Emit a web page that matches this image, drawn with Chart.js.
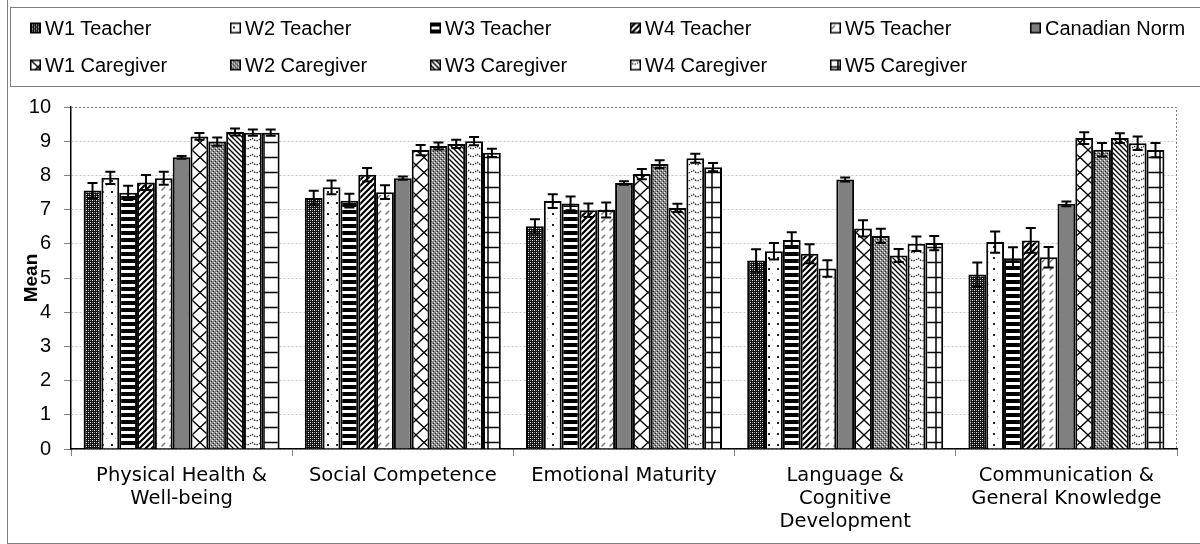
<!DOCTYPE html>
<html><head><meta charset="utf-8">
<script src="https://cdn.jsdelivr.net/npm/chart.js@4"></script>
<style>
html,body{margin:0;padding:0;background:#fff;}
#wrap{position:relative;width:1200px;height:544px;overflow:hidden;}
#frame{position:absolute;left:7px;top:-2px;width:1200px;height:546px;border:1px solid #808080;box-sizing:border-box;}
#legendBox{position:absolute;left:10px;top:7px;width:1200px;height:80px;border:1px solid #808080;box-sizing:border-box;}
.item{position:absolute;display:flex;align-items:center;white-space:nowrap;font-family:"Liberation Sans",Arial,sans-serif;font-size:20px;color:#000;transform:translateY(-50%);}
.item canvas{margin-right:4px;display:block;}
#c{position:absolute;left:0;top:0;}
</style></head>
<body>
<div id="wrap">
<div id="frame"></div>
<div id="legendBox"></div>
<canvas id="c" width="1200" height="544"></canvas>
</div>
<script>
const categories = [["Physical Health &","Well-being"],["Social Competence"],["Emotional Maturity"],["Language &","Cognitive","Development"],["Communication &","General Knowledge"]];
const seriesNames = ["W1 Teacher","W2 Teacher","W3 Teacher","W4 Teacher","W5 Teacher","Canadian Norm","W1 Caregiver","W2 Caregiver","W3 Caregiver","W4 Caregiver","W5 Caregiver"];
const w1Teacher   = [7.56, 7.34, 6.51, 5.51, 5.10];
const w2Teacher   = [7.93, 7.65, 7.25, 5.78, 6.05];
const w3Teacher   = [7.49, 7.26, 7.18, 6.11, 5.58];
const w4Teacher   = [7.79, 8.02, 6.98, 5.71, 6.10];
const w5Teacher   = [7.92, 7.51, 6.99, 5.28, 5.61];
const canadianNorm= [8.53, 7.92, 7.78, 7.88, 7.17];
const w1Caregiver = [9.14, 8.74, 8.04, 6.45, 9.09];
const w2Caregiver = [8.99, 8.86, 8.33, 6.23, 8.75];
const w3Caregiver = [9.27, 8.92, 7.05, 5.66, 9.09];
const w4Caregiver = [9.25, 9.00, 8.50, 6.00, 8.94];
const w5Caregiver = [9.25, 8.66, 8.24, 6.02, 8.74];
const errW1Teacher   = [0.22, 0.21, 0.21, 0.33, 0.35];
const errW2Teacher   = [0.18, 0.20, 0.20, 0.24, 0.31];
const errW3Teacher   = [0.21, 0.20, 0.20, 0.23, 0.32];
const errW4Teacher   = [0.22, 0.20, 0.20, 0.28, 0.36];
const errW5Teacher   = [0.19, 0.20, 0.22, 0.24, 0.30];
const errCanadianNorm= [0.04, 0.05, 0.05, 0.06, 0.07];
const errW1Caregiver = [0.10, 0.15, 0.15, 0.24, 0.17];
const errW2Caregiver = [0.12, 0.10, 0.11, 0.21, 0.20];
const errW3Caregiver = [0.10, 0.12, 0.12, 0.19, 0.14];
const errW4Caregiver = [0.09, 0.12, 0.13, 0.21, 0.20];
const errW5Caregiver = [0.09, 0.12, 0.12, 0.21, 0.21];
const yTicks = [0,1,2,3,4,5,6,7,8,9,10];

const values = [w1Teacher,w2Teacher,w3Teacher,w4Teacher,w5Teacher,canadianNorm,w1Caregiver,w2Caregiver,w3Caregiver,w4Caregiver,w5Caregiver];
const errors = [errW1Teacher,errW2Teacher,errW3Teacher,errW4Teacher,errW5Teacher,errCanadianNorm,errW1Caregiver,errW2Caregiver,errW3Caregiver,errW4Caregiver,errW5Caregiver];

function tile(w,h,draw){const c=document.createElement('canvas');c.width=w;c.height=h;const g=c.getContext('2d');draw(g,w,h);return c;}
function diag(g,s,up,col,lw){g.strokeStyle=col;g.lineWidth=lw;g.beginPath();
  if(up){g.moveTo(0,s);g.lineTo(s,0);g.moveTo(-s/2,s/2);g.lineTo(s/2,-s/2);g.moveTo(s/2,s*1.5);g.lineTo(s*1.5,s/2);}
  else{g.moveTo(0,0);g.lineTo(s,s);g.moveTo(-s/2,s/2);g.lineTo(s/2,s*1.5);g.moveTo(s/2,-s/2);g.lineTo(s*1.5,s/2);}
  g.stroke();}
const tiles = [
  tile(4,4,(g)=>{g.fillStyle='#111';g.fillRect(0,0,4,4);g.fillStyle='#fff';g.fillRect(0,0,1,1);g.fillRect(2,2,1,1);g.fillStyle='#888';g.fillRect(2,0,1,1);g.fillRect(0,2,1,1);}),
  tile(9,11,(g)=>{g.fillStyle='#fff';g.fillRect(0,0,9,11);g.fillStyle='#222';g.fillRect(3,4,2,2);g.fillStyle='#aaa';g.fillRect(7,9,1,1);}),
  tile(4,7,(g)=>{g.fillStyle='#fff';g.fillRect(0,0,4,7);g.fillStyle='#000';g.fillRect(0,0,4,4);}),
  tile(6,6,(g)=>{g.fillStyle='#fff';g.fillRect(0,0,6,6);diag(g,6,true,'#000',2.2);}),
  tile(8,8,(g)=>{g.fillStyle='#fff';g.fillRect(0,0,8,8);g.strokeStyle='#707070';g.lineWidth=1.5;g.beginPath();g.moveTo(1.5,6.5);g.lineTo(5,3);g.stroke();}),
  null,
  tile(16,15,(g)=>{g.fillStyle='#fff';g.fillRect(0,0,16,15);g.strokeStyle='#000';g.lineWidth=1.3;g.beginPath();g.moveTo(0,0);g.lineTo(16,15);g.moveTo(16,0);g.lineTo(0,15);g.stroke();}),
  tile(4,4,(g)=>{g.fillStyle='#8a8a8a';g.fillRect(0,0,4,4);g.fillStyle='#fff';g.fillRect(0,0,1,1);g.fillRect(2,2,1,1);g.fillStyle='#222';g.fillRect(1,3,1,1);g.fillRect(3,1,1,1);}),
  tile(5,5,(g)=>{g.fillStyle='#fff';g.fillRect(0,0,5,5);diag(g,5,false,'#000',1.4);}),
  tile(9,8,(g)=>{g.fillStyle='#fff';g.fillRect(0,0,9,8);g.strokeStyle='#333';g.lineWidth=1.3;g.setLineDash([1.5,1.2]);g.beginPath();g.moveTo(0,2);g.quadraticCurveTo(4.5,7.5,9,2);g.stroke();}),
  tile(16,15,(g)=>{g.fillStyle='#fff';g.fillRect(0,0,16,15);g.strokeStyle='#000';g.lineWidth=1.5;g.beginPath();g.moveTo(8,0);g.lineTo(8,15);g.moveTo(0,7.5);g.lineTo(16,7.5);g.stroke();})
];
const canvas = document.getElementById('c');
const ctx0 = canvas.getContext('2d');
const fills = tiles.map(t => t ? ctx0.createPattern(t,'repeat') : '#808080');

// legend
const wrap = document.getElementById('wrap');
const colX = [30,230,430,630,830,1030];
const rowY = [28,65];
seriesNames.forEach((name,i)=>{
  const row = i < 6 ? 0 : 1, col = i < 6 ? i : i-6;
  const d = document.createElement('div'); d.className='item';
  d.style.left = colX[col]+'px'; d.style.top = rowY[row]+'px';
  const sw = document.createElement('canvas'); sw.width=11; sw.height=11;
  const g = sw.getContext('2d'); g.fillStyle = tiles[i] ? g.createPattern(tiles[i],'repeat') : '#808080';
  g.fillRect(0,0,11,11); g.strokeStyle='#000'; g.lineWidth=1.5; g.strokeRect(0.75,0.75,9.5,9.5);
  d.appendChild(sw);
  const s = document.createElement('span'); s.textContent = name; d.appendChild(s);
  wrap.appendChild(d);
});

const errPlugin = {
  id:'errbars',
  afterDatasetsDraw(chart){
    const ctx = chart.ctx, ys = chart.scales.y;
    chart.data.datasets.forEach((ds,i)=>{
      const meta = chart.getDatasetMeta(i);
      meta.data.forEach((bar,j)=>{
        const v = ds.data[j], e = ds.err[j];
        const x = bar.x, yt = ys.getPixelForValue(v+e), yb = ys.getPixelForValue(v-e);
        ctx.save(); ctx.strokeStyle='#000'; ctx.lineWidth=2; ctx.beginPath();
        ctx.moveTo(x,yt); ctx.lineTo(x,yb);
        ctx.moveTo(x-5,yt); ctx.lineTo(x+5,yt);
        ctx.moveTo(x-5,yb); ctx.lineTo(x+5,yb);
        ctx.stroke(); ctx.restore();
      });
    });
  }
};
const borderPlugin = {
  id:'plotBorder',
  beforeDatasetsDraw(chart){
    const {ctx, chartArea:a} = chart;
    ctx.save(); ctx.strokeStyle='#808080'; ctx.lineWidth=1; ctx.setLineDash([2,2]);
    ctx.beginPath(); ctx.moveTo(a.left, a.top+0.5); ctx.lineTo(a.right-0.5, a.top+0.5); ctx.lineTo(a.right-0.5, a.bottom); ctx.stroke();
    ctx.restore();
  }
};

new Chart(canvas, {
  type:'bar',
  data:{
    labels: categories,
    datasets: seriesNames.map((n,i)=>({label:n, data:values[i], err:errors[i], backgroundColor:fills[i], borderColor:'#000', borderWidth:2, categoryPercentage:0.886, barPercentage:1}))
  },
  options:{
    responsive:false, animation:false, devicePixelRatio:1,
    layout:{padding:{left:0,right:23,top:107,bottom:0}},
    plugins:{legend:{display:false}, tooltip:{enabled:false}},
    scales:{
      x:{
        grid:{display:true, drawOnChartArea:false, drawTicks:true, tickLength:7, color:'#808080', offset:true},
        border:{color:'#000', width:1.5},
        ticks:{autoSkip:false, maxRotation:0, minRotation:0, padding:8, color:'#000', font:{family:'"DejaVu Sans", Verdana, sans-serif', size:19.5, lineHeight:1.18}},
        afterFit(s){ s.height = 95; }
      },
      y:{
        min:0, max:10,
        afterBuildTicks(s){ s.ticks = yTicks.map(v=>({value:v})); },
        grid:{color:'#c4c4c4', lineWidth:1, tickLength:7, tickColor:'#808080'},
        border:{color:'#000', width:1.5, dash:[2,2]},
        ticks:{padding:13, color:'#000', font:{family:'"Liberation Sans", Arial, sans-serif', size:20}},
        title:{display:true, text:'Mean', color:'#000', font:{family:'"Liberation Sans", Arial, sans-serif', size:19, weight:'bold'}, padding:{top:20,bottom:0}},
        afterFit(s){ s.width = 71; }
      }
    }
  },
  plugins:[borderPlugin, errPlugin]
});
</script>
</body></html>
